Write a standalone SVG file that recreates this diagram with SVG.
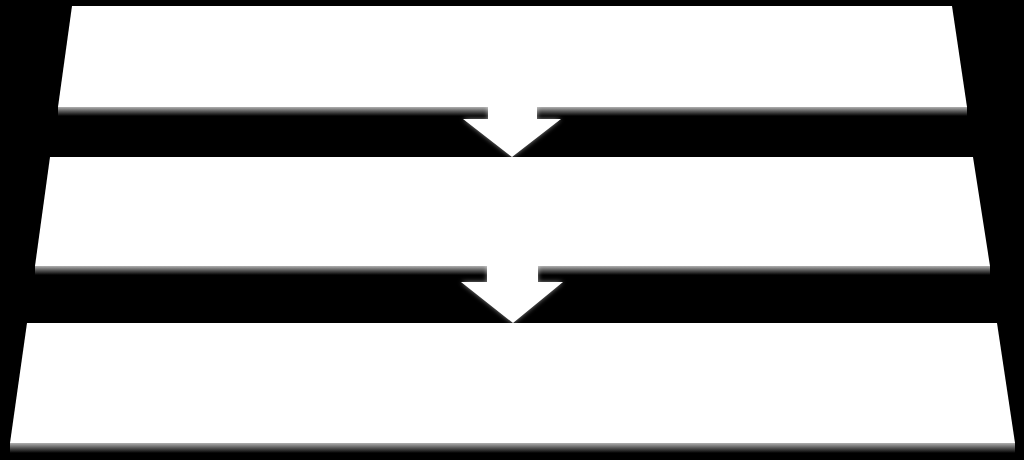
<svg xmlns="http://www.w3.org/2000/svg" width="1024" height="460" viewBox="0 0 1024 460">
  <defs>
    <linearGradient id="shade" x1="0" y1="0" x2="0" y2="1">
      <stop offset="0" stop-color="#b0b0b0"/>
      <stop offset="0.5" stop-color="#555555"/>
      <stop offset="1" stop-color="#000000"/>
    </linearGradient>
    <filter id="glow" x="-10%" y="-20%" width="120%" height="140%">
      <feGaussianBlur stdDeviation="2.5"/>
    </filter>
    <style>
      .bar { fill: #ffffff; }
      .shadow { fill: url(#shade); }
      .arrow { fill: #ffffff; }
      .halo { fill: #ffffff; opacity: 0.55; filter: url(#glow); }
    </style>
  </defs>
  <rect x="0" y="0" width="1024" height="460" fill="#000000"/>

  <g id="bar1">
    <rect class="shadow" x="58" y="107" width="909" height="9"/>
    <polygon class="bar" points="72,6 952,6 967,107 58,107"/>
  </g>
  <g id="bar2">
    <rect class="shadow" x="35" y="266" width="955" height="9"/>
    <polygon class="bar" points="50,157 973,157 990,266 35,266"/>
  </g>
  <g id="bar3">
    <rect class="shadow" x="10" y="443" width="1005" height="10"/>
    <polygon class="bar" points="27,323 997,323 1015,443 10,443"/>
  </g>

  <g id="connectors">
    <polygon class="halo" points="488,104 537,104 537,119 561,119 512,157 463,119 488,119"/>
    <polygon class="arrow" points="488,104 537,104 537,119 561,119 512,157 463,119 488,119"/>
    <polygon class="halo" points="487,263 538,263 538,282 563,282 513,323 461,282 487,282"/>
    <polygon class="arrow" points="487,263 538,263 538,282 563,282 513,323 461,282 487,282"/>
  </g>
</svg>
